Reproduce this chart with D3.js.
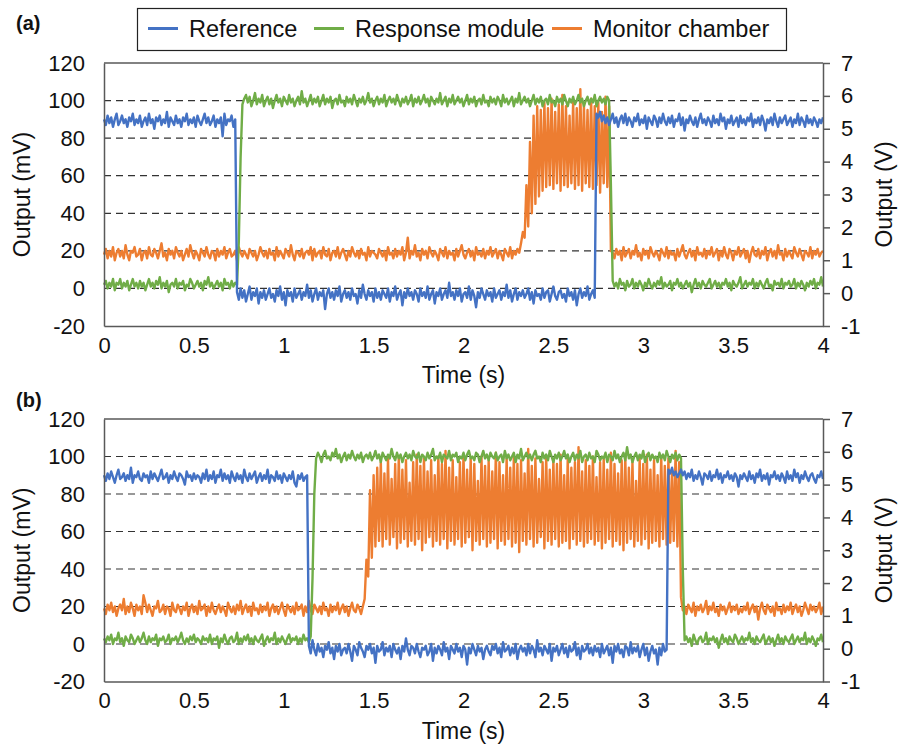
<!DOCTYPE html>
<html>
<head>
<meta charset="utf-8">
<script src="https://cdn.jsdelivr.net/npm/d3@7"></script>
<style>
  body { margin: 0; background: #fff; }
  text { font-family: "Liberation Sans", Arial, sans-serif; fill: #111; }
</style>
</head>
<body>
<svg id="chart"></svg>
<script>
// sampling of every trace (s)
const sampleStep = 0.01;

const xTicks = [0, 0.5, 1, 1.5, 2, 2.5, 3, 3.5, 4];
const mvTicks = [-20, 0, 20, 40, 60, 80, 100, 120];
const vTicks = [-1, 0, 1, 2, 3, 4, 5, 6, 7];
const gridTicks = [0, 20, 40, 60, 80, 100];
const seriesNames = ['Reference', 'Response module', 'Monitor chamber'];

// panel (a), mV
const refA = [
  90, 87, 92, 88, 91, 86, 90, 93, 87, 89, 92, 88, 90, 86, 91, 89, 93, 87, 90, 88,
  92, 86, 89, 91, 87, 93, 88, 90, 85, 91, 89, 92, 87, 90, 88, 94, 86, 91, 89, 87,
  92, 88, 90, 86, 91, 89, 93, 87, 90, 88, 91, 86, 92, 89, 87, 90, 93, 88, 91, 87,
  89, 92, 86, 90, 88, 91, 81, 93, 87, 90, 89, 92, 86, 90,
  // 0.74 s
  -2, -6, 0, -5, -1, -7, -3, 1, -6, -2, -4, 0, -8, -2, -5, -1, -6, -3, 0, -5,
  -3, -7, -1, -4, 1, -6, -2, -9, -1, -4, -2, -7, 0, -5, -3, -1, -6, -2, -4, 2,
  -5, -1, -7, -3, 0, -6, -2, -4, -1, -11, -3, 0, -5, -2, -6, -1, -4, 1, -7, -3,
  -1, -5, -2, -6, 0, -4, -3, -8, -1, -5, 2, -3, -6, -1, -4, -2, -7, 0, -5, -2,
  -6, -1, -3, -5, 0, -7, -2, -4, 1, -6, -3, -1, -9, -2, -5, 0, -4, -2, -6, -1,
  -3, -7, 0, -4, -2, -5, 1, -6, -3, -1, -8, -2, -4, 0, -6, -3, -1, -5, 3, -4,
  -2, -6, -1, -4, 0, -7, -3, -2, -5, 1, -6, -1, -4, -10, -2, -5, 0, -3, -6, -1,
  -4, -2, -7, 0, -5, -3, -1, -6, -2, -4, 2, -5, -1, -7, -3, 0, -6, -2, -4, -1,
  -5, -3, 0, -6, -2, -8, -1, -4, -3, -6, 0, -5, -2, -1, -7, -3, 1, -4, -6, -2,
  -1, -5, -3, -7, 0, -4, -2, -6, -1, -9, -3, 0, -5, -2, -4, 1, -6, -3, -1, -5,
  // 2.74 s
  93, 91, 94, 89, 92, 88, 91, 87, 90, 93, 88, 91, 86, 90, 92, 88, 93, 87, 91, 89,
  86, 91, 89, 93, 87, 90, 88, 92, 85, 91, 89, 87, 92, 90, 86, 91, 88, 93, 89, 87,
  91, 88, 92, 86, 90, 89, 93, 87, 91, 84, 90, 88, 92, 89, 87, 91, 86, 90, 93, 88,
  90, 87, 91, 89, 86, 92, 88, 90, 87, 93, 89, 91, 85, 90, 88, 92, 87, 89, 91, 86,
  92, 88, 90, 87, 91, 89, 93, 86, 90, 88, 91, 87, 92, 89, 84, 90, 88, 91, 87, 93,
  89, 86, 91, 88, 90, 92, 87, 89, 91, 86, 90, 88, 93, 87, 91, 89, 86, 92, 88, 90,
  87, 91, 89, 86, 90, 88, 91
];
const respA = [
  2, 4, 0, 3, 1, 5, -1, 3, 2, 5, 0, 3, 1, 4, -1, 2, 5, 1, 3, 0,
  4, 1, 3, -1, 2, 5, 1, 3, 0, 4, 2, 6, 0, 3, 1, 4, -2, 2, 3, 1,
  5, 0, 3, 2, 4, -1, 2, 1, 5, 3, 0, 2, 4, 1, 3, -1, 4, 2, 6, 1,
  3, 0, 2, 4, 1, 3, -1, 5, 2, 3, 0, 4, 1, 3, 2,
  25, 70,
  // 0.77 s
  98, 101, 103, 99, 102, 97, 100, 104, 98, 101, 99, 103, 97, 100, 102, 98, 101, 96, 100, 103,
  99, 101, 97, 102, 100, 98, 103, 99, 101, 97, 100, 102, 98, 105, 99, 101, 97, 100, 103, 98,
  101, 99, 102, 97, 100, 103, 98, 101, 99, 102, 96, 100, 101, 98, 103, 99, 100, 97, 102, 99,
  101, 98, 103, 100, 97, 101, 99, 102, 98, 100, 104, 99, 101, 97, 100, 102, 98, 101, 99, 103,
  97, 100, 102, 99, 101, 98, 103, 100, 97, 101, 99, 102, 98, 100, 103, 97, 101, 99, 102, 98,
  100, 103, 99, 101, 97, 102, 100, 98, 101, 99, 104, 98, 100, 102, 97, 101, 99, 103, 98, 100,
  102, 99, 101, 97, 100, 103, 98, 101, 99, 102, 97, 100, 101, 98, 103, 99, 100, 97, 102, 99,
  101, 98, 102, 100, 97, 103, 99, 101, 98, 100, 102, 97, 101, 99, 104, 98, 100, 102, 99, 101,
  97, 100, 103, 98, 101, 99, 102, 97, 100, 101, 98, 103, 99, 100, 97, 102, 99, 101, 98, 103,
  100, 97, 101, 99, 102, 98, 100, 103, 99, 101, 97, 100, 102, 98, 101, 99, 103, 97, 100, 102,
  99, 101, 98, 102, 100,
  55,
  // 2.83 s
  4, 1, 3, 0, 5, 2, 3, -1, 4, 1, 2, 5, 0, 3, 1, 4, 2, -1, 3, 1,
  5, 2, 0, 3, 1, 4, 2, 6, 0, 3, 1, 2, 4, -1, 3, 2, 5, 1, 3, 0,
  2, 4, 1, 3, -2, 2, 5, 1, 3, 0, 4, 2, 1, 3, 5, 0, 2, 4, 1, 3,
  0, 3, 2, 5, 1, 3, -1, 4, 2, 1, 3, 6, 0, 2, 4, 1, 3, 2, 5, 0,
  3, 1, 4, 2, 0, 3, 5, 1, 2, -1, 4, 2, 3, 1, 5, 0, 3, 2, 4, 1,
  2, 5, 0, 3, 1, 4, 2, -1, 3, 1, 4, 2, 5, 0, 3, 2, 6, 1
];
const monA = [
  18, 21, 16, 20, 17, 22, 15, 19, 21, 17, 20, 16, 23, 18, 15, 20, 19, 22, 17, 18,
  21, 15, 19, 20, 16, 22, 18, 17, 21, 19, 16, 20, 24, 17, 19, 15, 21, 18, 20, 16,
  22, 19, 17, 20, 15, 18, 21, 17, 23, 19, 16, 20, 18, 15, 21, 19, 17, 22, 18, 16,
  20, 19, 15, 21, 17, 20, 18, 22, 16, 19, 21, 17, 18, 20, 15, 22, 19, 17, 20, 18,
  16, 21, 19, 17, 20, 15, 18, 22, 19, 17, 20, 16, 21, 18, 19, 15, 22, 17, 20, 18,
  16, 21, 19, 17, 23, 18, 15, 20, 19, 17, 21, 16, 19, 20, 18, 22, 15, 21, 17, 19,
  20, 16, 22, 18, 17, 21, 15, 19, 20, 17, 22, 16, 19, 21, 18, 15, 20, 17, 22, 19,
  17, 20, 16, 21, 18, 19, 15, 22, 17, 20, 19, 18, 16, 21, 19, 17, 20, 15, 22, 18,
  19, 16, 21, 17, 20, 18, 22, 15, 19, 27, 16, 20, 18, 23, 17, 19, 15, 21, 18, 20,
  16, 22, 19, 17, 20, 18, 15, 21, 19, 17, 22, 16, 20, 18, 19, 15, 21, 17, 20, 23,
  18, 16, 19, 21, 17, 20, 15, 22, 18, 19, 17, 21, 16, 20, 18, 22, 17, 19, 21, 16,
  20, 18, 15, 21, 19, 17, 22, 16, 20, 18, 21, 19,
  // 2.32 s
  24, 30, 27, 55, 33, 78, 40, 92, 45, 97, 49, 95, 52,
  99, 54, 96, 55, 101, 53, 94, 56, 98, 52, 103, 55, 97, 54, 92, 56, 100, 53, 96, 55,
  106, 52, 98, 56, 95, 54, 101, 53, 97, 55, 99, 51, 94, 56, 102, 54, 97,
  20,
  // 2.83 s
  19, 16, 21, 18, 20, 15, 22, 17, 19, 21, 16, 20, 18, 23, 17, 19, 15, 21, 18, 20,
  16, 22, 19, 17, 20, 18, 15, 21, 19, 17, 22, 16, 20, 18, 19, 15, 21, 17, 20, 23,
  18, 16, 19, 21, 17, 20, 15, 22, 18, 19, 17, 21, 16, 20, 18, 22, 17, 19, 21, 15,
  20, 17, 22, 18, 16, 21, 19, 15, 20, 18, 22, 17, 19, 21, 16, 20, 14, 19, 22, 18,
  17, 21, 16, 20, 18, 22, 15, 19, 21, 17, 20, 16, 23, 18, 19, 15, 21, 17, 20, 18,
  16, 22, 19, 17, 21, 18, 15, 20, 19, 17, 22, 16, 20, 18, 21, 17, 19, 20
];

// panel (b), mV
const refB = [
  90, 87, 91, 88, 92, 89, 86, 90, 93, 88, 89, 91, 87, 90, 88, 94, 86, 90, 89, 92,
  88, 87, 91, 89, 90, 86, 92, 88, 91, 89, 87, 90, 93, 88, 89, 91, 86, 90, 88, 92,
  89, 87, 91, 90, 88, 85, 92, 89, 90, 87, 91, 88, 90, 89, 86, 91, 88, 93, 87, 90,
  88, 92, 86, 90, 89, 93, 87, 91, 88, 90, 86, 92, 89, 87, 91, 88, 90, 86, 93, 89,
  87, 91, 88, 90, 92, 86, 89, 91, 87, 90, 88, 93, 86, 90, 89, 87, 92, 88, 90, 86,
  91, 89, 87, 90, 88, 92, 86, 84, 90, 88, 91, 87, 89, 90,
  // 1.14 s
  -1, -5, 2, -3, -6, 0, -4, -2, -7, -1, -3, 1, -5, -2, -8, -1, -4, 0, -6, -3,
  -2, -5, 0, -4, -9, -1, -3, -6, 1, -2, -4, -7, -1, -3, 0, -5, -2, -10, -1, -4,
  -3, 1, -6, -2, -4, -1, -7, 0, -3, -5, -2, -8, -1, -4, 3, -3, -6, -1, -2, -5,
  0, -4, -7, -2, -3, -1, -6, -4, 0, -9, -2, -5, -1, -3, -6, 1, -4, -2, -8, -1,
  -3, -5, 0, -4, -2, -7, -1, -3, -11, -2, -5, 0, -3, -6, -1, -4, -2, -8, -3, -1,
  -4, -6, -1, -3, 0, -5, -2, -7, 1, -4, -3, -1, -6, -2, -5, 0, -8, -3, -1, -4,
  -2, -6, 0, -5, -1, -3, -7, 2, -4, -2, -6, -1, -3, -5, 0, -9, -2, -4, -1, -6,
  -3, 0, -5, -2, -7, -1, -4, -3, 1, -6, -2, -8, -1, -4, -3, 0, -5, -2, -6, -1,
  -4, -2, -7, 0, -5, -3, -1, -6, -2, -10, -1, -4, 0, -5, -3, -7, -1, -2, -6, 1,
  -5, -2, -4, -1, -7, -3, 0, -6, -2, -9, -4, -1, -5, -3, -11, -2, -6, 0, -4, -3,
  // 3.14 s
  93, 91, 94, 90, 92, 89, 91, 93, 90, 92, 88, 91, 89, 93, 87, 90, 88, 92, 89, 85,
  91, 90, 88, 92, 87, 90, 89, 93, 88, 91, 86, 90, 89, 92, 88, 90, 87, 91, 89, 84,
  90, 88, 91, 89, 87, 92, 88, 90, 86, 91, 89, 93, 87, 90, 88, 91, 85, 90, 89, 92,
  88, 90, 87, 91, 89, 86, 92, 88, 90, 87, 93, 89, 91, 86, 90, 88, 92, 89, 87, 90,
  91, 88, 86, 90, 89, 92, 88
];
const respB = [
  3, 1, 4, 2, 5, 0, 3, 2, 6, 1, 3, -1, 4, 2, 1, 5, 3, 0, 2, 4,
  1, 3, 6, 2, 0, 4, 1, 3, 2, 5, -1, 3, 2, 4, 1, 2, 5, 0, 3, 2,
  4, 1, 3, 6, 2, 0, 3, 1, 4, 2, 5, 1, 3, 2, 0, 4, 2, 3, 1, 5,
  0, 3, 2, 4, -2, 3, 1, 5, 2, 0, 3, 4, 1, 2, 6, 0, 3, 1, 4, 2,
  5, 1, 3, 0, 4, 2, 1, 3, 5, -1, 2, 4, 1, 3, 2, 6, 0, 3, 1, 4,
  2, 0, 3, 5, 1, 3, 2, 4, 0, 3, 1, 5, 2, 3, 1, 4,
  35, 80,
  // 1.18 s
  99, 102, 100, 97, 101, 103, 99, 100, 98, 102, 100, 104, 99, 101, 97, 100, 102, 98, 101, 99,
  103, 100, 98, 101, 99, 102, 97, 100, 101, 99, 102, 98, 100, 103, 99, 101, 97, 102, 100, 98,
  101, 99, 104, 100, 98, 102, 99, 101, 97, 100, 102, 99, 101, 98, 103, 100, 99, 102, 97, 101,
  100, 98, 102, 99, 101, 104, 98, 100, 99, 102, 97, 101, 100, 99, 103, 98, 101, 100, 102, 97,
  100, 99, 102, 98, 101, 103, 99, 100, 98, 102, 101, 97, 100, 103, 99, 101, 98, 102, 100, 99,
  102, 98, 100, 101, 97, 103, 99, 101, 98, 100, 102, 97, 101, 99, 104, 98, 100, 102, 99, 101,
  98, 101, 103, 99, 100, 97, 102, 99, 101, 98, 103, 100, 97, 101, 99, 102, 98, 100, 103, 99,
  101, 97, 100, 102, 98, 101, 99, 103, 97, 100, 101, 98, 102, 99, 100, 97, 103, 101, 98, 100,
  99, 102, 97, 101, 100, 98, 103, 99, 101, 97, 100, 102, 98, 105, 99, 101, 97, 100, 102, 98,
  101, 99, 103, 97, 100, 102, 98, 101, 99, 100, 97, 102, 99, 101, 98, 103, 100, 97, 101, 99,
  102, 98, 101, 99,
  40,
  // 3.23 s
  2, 4, 1, 3, -1, 5, 2, 0, 3, 4, 1, 2, 6, 0, 3, 2, 4, 1, 3, -2,
  2, 5, 1, 3, 0, 4, 2, 1, 5, 3, 0, 2, 4, 1, 3, 2, 6, 1, 3, 0,
  4, 2, 1, 3, 5, 0, 2, 4, 1, 3, -1, 2, 5, 1, 3, 0, 4, 2, 1, 3,
  5, 0, 2, 4, 1, 3, 2, 6, 0, 3, 1, 4, 2, -1, 3, 2, 5, 1
];
const monB = [
  19, 16, 21, 18, 22, 17, 20, 15, 19, 21, 18, 24, 16, 20, 17, 22, 19, 15, 21, 18,
  20, 16, 26, 22, 17, 21, 18, 15, 20, 19, 23, 17, 18, 21, 16, 20, 19, 15, 22, 18,
  17, 21, 19, 16, 20, 18, 22, 15, 19, 21, 17, 20, 16, 23, 18, 19, 21, 15, 20, 17,
  22, 18, 16, 19, 21, 17, 20, 18, 15, 22, 19, 17, 20, 16, 21, 18, 23, 16, 19, 21,
  17, 20, 15, 22, 18, 19, 16, 21, 17, 20, 18, 22, 15, 19, 21, 17, 20, 16, 19, 22,
  18, 15, 21, 19, 17, 20, 16, 22, 18, 19, 21, 15, 20, 17, 23, 18, 16, 21, 19, 17,
  20, 16, 22, 18, 19, 15, 21, 17, 20, 18, 22, 16, 19, 21, 17, 20, 15, 19, 22, 18,
  17, 21, 19, 16, 20,
  // 1.45 s
  24, 45, 36, 82, 46, 90, 52,
  94, 55, 97, 52, 91, 56, 99, 53, 88, 57, 96, 51, 100, 54, 93, 56, 98, 52, 86, 55,
  97, 53, 101, 56, 95, 50, 99, 54, 92, 57, 98, 52, 90, 55, 100, 53, 96, 56, 103, 51,
  94, 55, 98, 53, 89, 56, 97, 52, 101, 54, 93, 57, 99, 50, 96, 55, 87, 53, 100, 56,
  95, 52, 98, 54, 92, 56, 102, 51, 97, 55, 90, 53, 99, 56, 94, 52, 100, 54, 96, 49,
  98, 55, 91, 53, 104, 56, 95, 52, 99, 54, 88, 57, 97, 51, 100, 55, 93, 53, 98, 56,
  96, 52, 101, 54, 90, 55, 99, 51, 94, 56, 97, 53, 105, 55, 92, 52, 98, 54, 95, 56,
  100, 53, 89, 55, 97, 51, 99, 54, 93, 56, 102, 52, 96, 55, 91, 53, 98, 50, 100, 54,
  94, 56, 97, 52, 87, 55, 99, 53, 96, 56, 101, 51, 93, 54, 98, 55, 90, 52, 100, 56,
  95, 53, 99, 54, 92, 55, 103, 52, 97,
  25,
  // 3.22 s
  18, 20, 16, 21, 19, 17, 22, 15, 20, 18, 21, 17, 19, 23, 16, 20, 18, 22, 17, 19,
  15, 21, 18, 20, 16, 19, 22, 17, 20, 18, 21, 16, 19, 17, 20, 18, 22, 16, 19, 21,
  17, 20, 13, 19, 22, 18, 16, 21, 19, 17, 20, 15, 22, 18, 19, 16, 21, 17, 20, 18,
  22, 16, 19, 21, 17, 20, 15, 18, 22, 19, 16, 21, 18, 20, 17, 19, 22, 16, 20
];

const colors = ['#4472C4', '#70AD47', '#ED7D31'];
const width = 898, height = 744;
const left = 104, right = 823;

const svg = d3.select('#chart')
  .attr('width', width)
  .attr('height', height)
  .style('background', '#fff');

const panels = [
  {label: '(a)', labelY: 30, top: 63, bottom: 326, data: [refA, respA, monA]},
  {label: '(b)', labelY: 407, top: 419, bottom: 681.5, data: [refB, respB, monB]}
];

const x = d3.scaleLinear().domain([0, 4]).range([left, right]);

panels.forEach(p => {
  const y = d3.scaleLinear().domain([-20, 120]).range([p.bottom, p.top]);
  const yv = d3.scaleLinear().domain([-1, 7]).range([p.bottom, p.top]);
  const g = svg.append('g');

  // dashed gridlines
  g.selectAll('line.grid')
    .data(gridTicks)
    .enter()
    .append('line')
    .attr('x1', left).attr('x2', right)
    .attr('y1', d => y(d)).attr('y2', d => y(d))
    .attr('stroke', '#333')
    .attr('stroke-width', 1.2)
    .attr('stroke-dasharray', '7,5');

  // traces, drawn orange -> green -> blue
  const line = d3.line()
    .x((d, i) => x(i * sampleStep))
    .y(d => y(d));
  [2, 1, 0].forEach(k => {
    g.append('path')
      .datum(p.data[k])
      .attr('d', line)
      .attr('fill', 'none')
      .attr('stroke', colors[k])
      .attr('stroke-width', 2.4)
      .attr('stroke-linejoin', 'round');
  });

  // top border
  g.append('line')
    .attr('x1', left).attr('x2', right)
    .attr('y1', p.top).attr('y2', p.top)
    .attr('stroke', '#595959').attr('stroke-width', 1.5);

  const axL = g.append('g')
    .attr('transform', `translate(${left},0)`)
    .call(d3.axisLeft(y).tickValues(mvTicks).tickFormat(d => String(d))
      .tickSize(0).tickPadding(19));
  const axB = g.append('g')
    .attr('transform', `translate(0,${p.bottom})`)
    .call(d3.axisBottom(x).tickValues(xTicks).tickFormat(d => String(d))
      .tickSize(0).tickPadding(11));
  const axR = g.append('g')
    .attr('transform', `translate(${right},0)`)
    .call(d3.axisRight(yv).tickValues(vTicks).tickFormat(d => String(d))
      .tickSize(7).tickSizeOuter(0).tickPadding(11));

  [axL, axB, axR].forEach(a => {
    a.select('.domain').attr('stroke', '#595959').attr('stroke-width', 1.5);
    a.selectAll('.tick line').attr('stroke', '#595959').attr('stroke-width', 1.5);
    a.selectAll('text')
      .attr('font-family', '"Liberation Sans", Arial, sans-serif')
      .attr('font-size', 22)
      .attr('fill', '#111');
  });

  g.append('text')
    .attr('x', (left + right) / 2)
    .attr('y', p.bottom + 57)
    .attr('text-anchor', 'middle')
    .attr('font-size', 23)
    .text('Time (s)');

  g.append('text')
    .attr('transform', `translate(30,${(p.top + p.bottom) / 2}) rotate(-90)`)
    .attr('text-anchor', 'middle')
    .attr('font-size', 23)
    .text('Output (mV)');

  g.append('text')
    .attr('transform', `translate(892,${(p.top + p.bottom) / 2}) rotate(-90)`)
    .attr('text-anchor', 'middle')
    .attr('font-size', 23)
    .text('Output (V)');

  g.append('text')
    .attr('x', 16)
    .attr('y', p.labelY)
    .attr('font-size', 20)
    .attr('font-weight', 'bold')
    .text(p.label);
});

// legend
const legend = svg.append('g');
legend.append('rect')
  .attr('x', 137.5).attr('y', 8.5)
  .attr('width', 649).attr('height', 42)
  .attr('fill', '#fff')
  .attr('stroke', '#222')
  .attr('stroke-width', 1.2);

const legendX = [148, 314, 552];
seriesNames.forEach((name, i) => {
  legend.append('line')
    .attr('x1', legendX[i]).attr('x2', legendX[i] + 30)
    .attr('y1', 28.5).attr('y2', 28.5)
    .attr('stroke', colors[i])
    .attr('stroke-width', 3);
  legend.append('text')
    .attr('x', legendX[i] + 41)
    .attr('y', 37)
    .attr('font-size', 23.5)
    .text(name);
});
</script>
</body>
</html>
